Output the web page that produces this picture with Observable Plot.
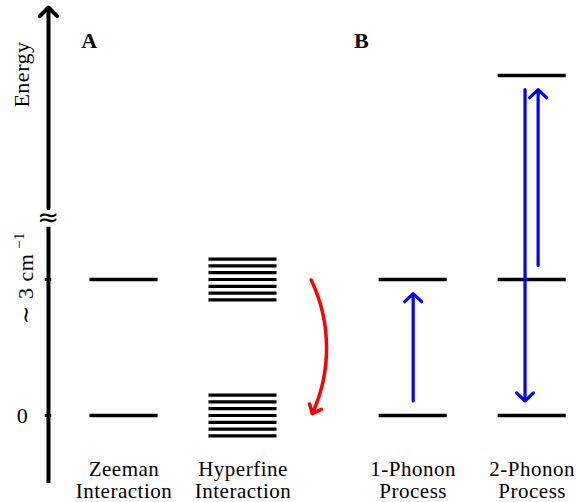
<!DOCTYPE html>
<html><head><meta charset="utf-8">
<script src="https://cdn.jsdelivr.net/npm/d3@7"></script>
<script src="https://cdn.jsdelivr.net/npm/@observablehq/plot@0.6"></script>
<style>body{margin:0;background:#fff} svg{display:block} svg text{letter-spacing:0.5px}</style>
</head><body><div id="chart"></div>
<script>
// ---- data (energies in cm^-1) ----
const columns = ["Zeeman\nInteraction", "Hyperfine\nInteraction", "1-Phonon\nProcess", "2-Phonon\nProcess"];
const zeemanLevels = [0, 3];
const hyperfineLevels = [3.45, 3.30, 3.15, 3.00, 2.85, 2.70, 2.55, 0.45, 0.30, 0.15, 0.00, -0.15, -0.30, -0.45];
const onePhononLevels = [0, 3];
const twoPhononLevels = [0, 3, 7.5];
const axisTicks = [0, 3];
const tickLabels = ["0", "∼ 3 cm"];
const tickSuperscript = "−1";
const axisTitle = "Energy";
const panelLabels = ["A", "B"];
const onePhononArrows = [{from: 0.32, to: 2.69}];
const twoPhononArrows = [{from: 7.19, to: 0.32, side: -1}, {from: 3.31, to: 7.19, side: 1}];
const relaxationArrows = [{from: 2.99, to: 0.04}];

// ---- layout (x in column units, y in energy units) ----
const colX = [1, 2, 3.43, 4.43];
const hw = 0.286;
const axisX = 0.3655;
const axisBottom = -1.5, breakLow = 4.15, breakHigh = 4.57, axisTop = 9.0;
const labelBaseline = -1.809;

const levelRule = (levels, i, sw) => Plot.ruleY(levels, {y: d => d, x1: () => colX[i] - hw, x2: () => colX[i] + hw, stroke: "black", strokeWidth: sw});

const chart = Plot.plot({
  width: 578, height: 502,
  marginTop: 0, marginRight: 0, marginBottom: 0, marginLeft: 0,
  x: {domain: [-0.0378, 4.8193], range: [0, 578], axis: null},
  y: {domain: [-1.9191, 9.1544], range: [502, 0], axis: null},
  style: {fontFamily: "'Liberation Serif', serif", fontSize: "22px", background: "white", color: "black"},
  marks: [
    // energy axis
    Plot.ruleX([axisX], {x: d => d, y1: axisBottom, y2: breakLow, stroke: "black", strokeWidth: 4}),
    Plot.arrow([0], {x1: axisX, y1: breakHigh, x2: axisX, y2: axisTop, stroke: "black", strokeWidth: 4, headLength: 4.6, headAngle: 90}),
    Plot.text(["≈"], {x: axisX, y: (breakLow + breakHigh) / 2, text: d => d, fontSize: 26, fontFamily: "'DejaVu Sans'", lineAnchor: "middle"}),
    Plot.ruleY(axisTicks, {y: d => d, x1: () => axisX - 0.027, x2: () => axisX + 0.027, stroke: "black", strokeWidth: 3}),
    // tick labels
    Plot.text([tickLabels[0]], {x: 0.147, y: axisTicks[0], text: d => d, lineAnchor: "middle"}),
    Plot.text([tickLabels[1]], {x: 0.2353, y: 2.80, text: d => d, rotate: -90, lineAnchor: "bottom"}),
    Plot.text([tickSuperscript], {x: 0.160, y: 3.86, text: d => d, rotate: -90, lineAnchor: "bottom", fontSize: 15}),
    Plot.text([axisTitle], {x: 0.2017, y: 7.522, text: d => d, rotate: -90, lineAnchor: "bottom"}),
    // panel labels
    Plot.text(panelLabels, {x: (d, i) => [0.7101, 2.996][i], y: 8.096, text: d => d, fontWeight: "bold", fontSize: 22, lineAnchor: "bottom"}),
    // levels
    levelRule(zeemanLevels, 0, 3.6),
    levelRule(hyperfineLevels, 1, 3.2),
    levelRule(onePhononLevels, 2, 3.6),
    levelRule(twoPhononLevels, 3, 3.6),
    // transitions
    Plot.arrow(onePhononArrows, {x1: () => colX[2], x2: () => colX[2], y1: "from", y2: "to", stroke: "#0000ff", strokeWidth: 3.2, headLength: 5.5, headAngle: 92}),
    Plot.arrow(twoPhononArrows, {x1: d => colX[3] + d.side * (d.side < 0 ? 0.06 : 0.05), x2: d => colX[3] + d.side * (d.side < 0 ? 0.06 : 0.05), y1: "from", y2: "to", stroke: "#0000ff", strokeWidth: 3.2, headLength: 5.5, headAngle: 92}),
    Plot.arrow(relaxationArrows, {x1: () => 2.573, x2: () => 2.582, y1: "from", y2: "to", bend: 25, stroke: "#ff0000", strokeWidth: 3.5, headLength: 4.3, headAngle: 80}),
    // column labels
    Plot.text(columns, {x: (d, i) => colX[i], y: labelBaseline, text: d => d, fontSize: 21, lineAnchor: "bottom", lineHeight: 1.048})
  ]
});
document.getElementById("chart").appendChild(chart);
</script>
</body></html>
